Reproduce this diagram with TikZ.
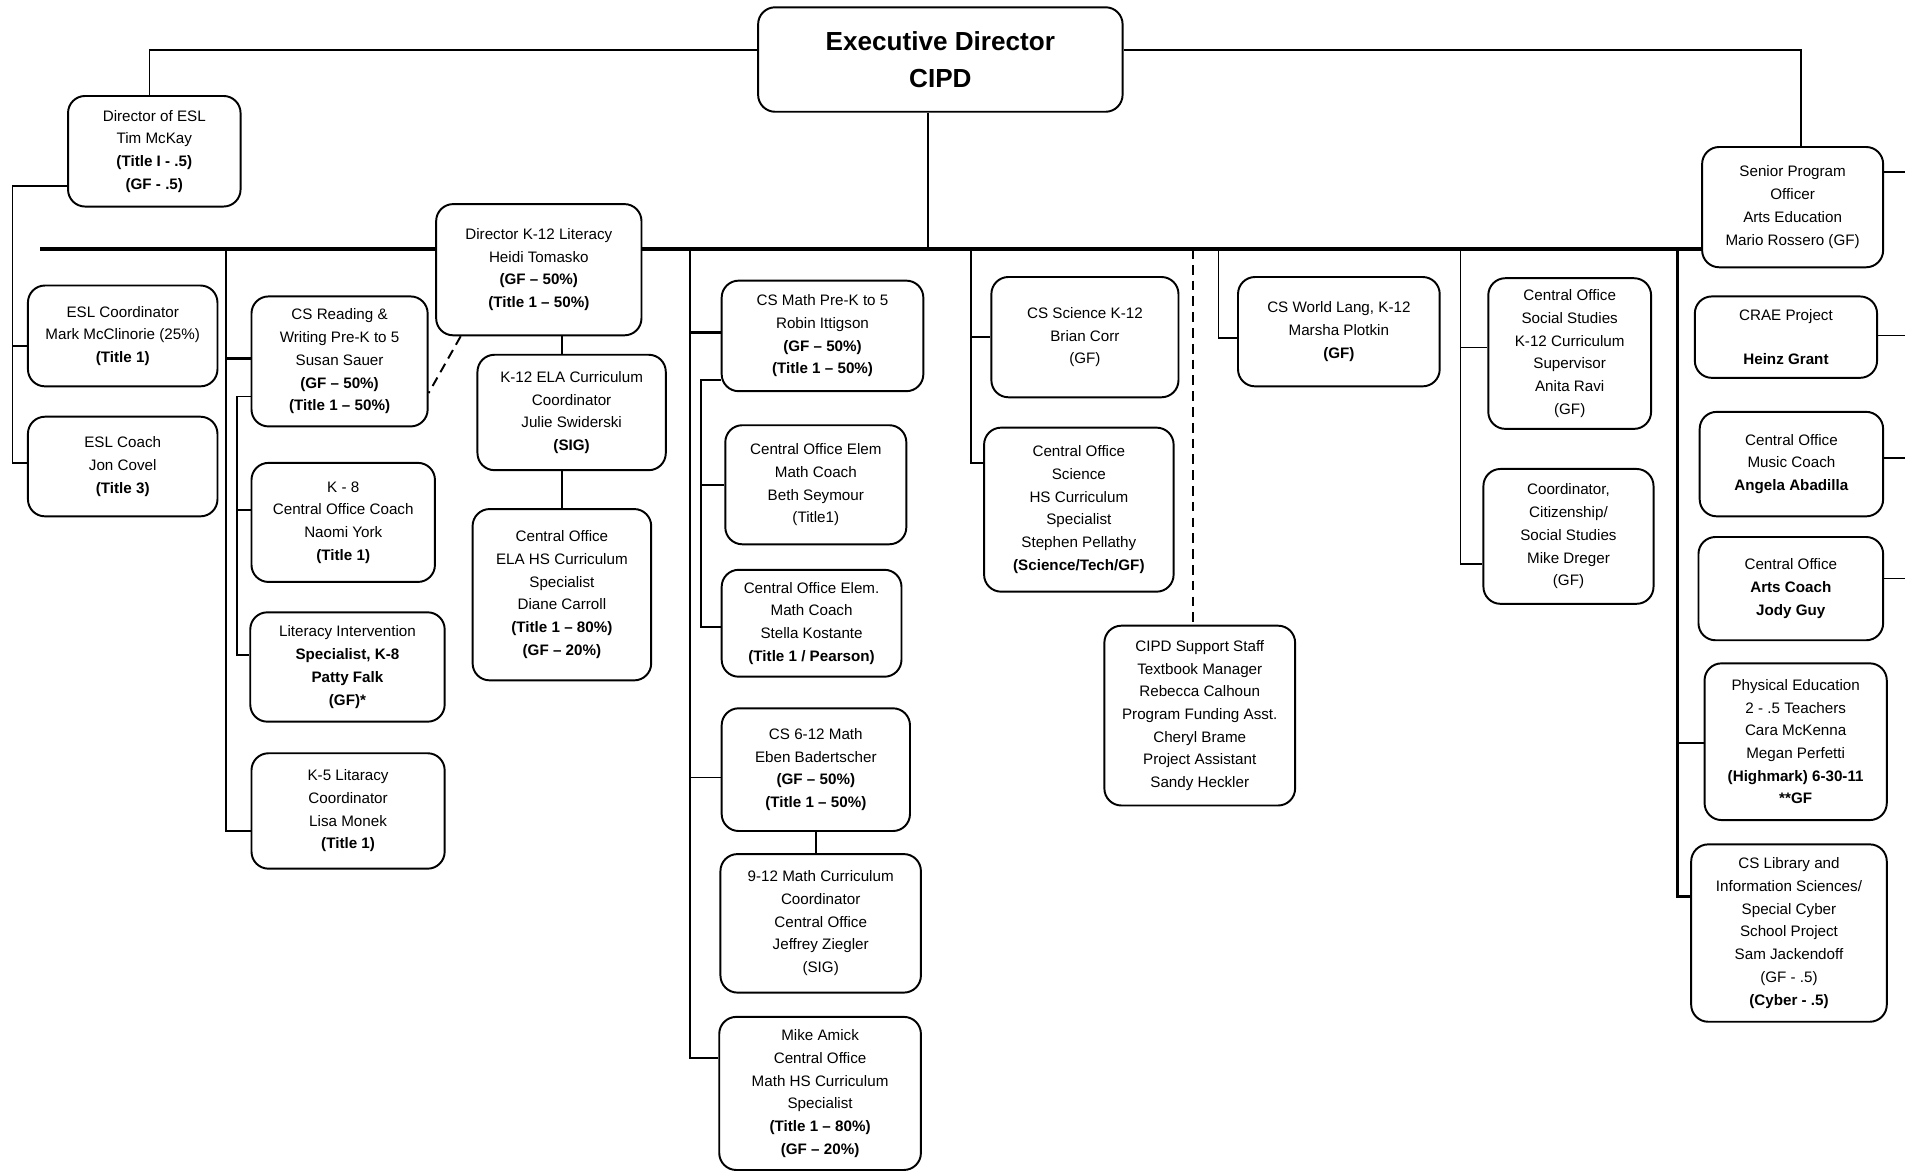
\documentclass[tikz,border=0pt]{standalone}
\usepackage{fontspec}
\setmainfont{Liberation Sans}
\usetikzlibrary{calc}
\tikzset {
    box/.style = {draw, line width = 1.6pt, rounded corners = 14pt, align = center,
        fill = white, inner sep = 2pt, font = \fontsize{12.5}{18.7}\selectfont},
    head box/.style = {font = \fontsize{21.5}{31}\selectfont\bfseries},
    sized/.style 2 args = {minimum width = #1pt, minimum height = #2pt},
    link/.style = {line width = 1.3pt},
    thick link/.style = {line width = 2.4pt},
    bus line/.style = {line width = 3pt},
    dash link/.style = {line width = 1.6pt, dash pattern = on 8pt off 5pt}
}
\begin{document}
\begin{tikzpicture}[x = 1pt, y = -1pt]
    \useasboundingbox (0, 0) rectangle (1568, 965);
    \coordinate (edge) at (1568, 0);
    \coordinate (busL) at (33, 205);
    % top level
    \node (exec) [box, head box, sized = {300}{86}] at (774, 49) {Executive Director\\CIPD};
    \node (esldir) [box, sized = {142}{91}] at (127, 124.5)
        {Director of ESL\\Tim McKay\\\textbf{(Title I - .5)}\\\textbf{(GF - .5)}};
    \node (litdir) [box, sized = {169}{108}] at (443.5, 222)
        {Director K-12 Literacy\\Heidi Tomasko\\\textbf{(GF -- 50\%)}\\\textbf{(Title 1 -- 50\%)}};
    \node (spo) [box, sized = {149}{99}] at (1475.5, 170.5)
        {Senior Program\\Officer\\Arts Education\\Mario Rossero (GF)};
    % ESL
    \node (eslcoord) [box, sized = {156}{83}] at (101, 276.5)
        {ESL Coordinator\\Mark McClinorie (25\%)\\\textbf{(Title 1)}};
    \node (eslcoach) [box, sized = {156}{82}] at (101, 384)
        {ESL Coach\\Jon Covel\\\textbf{(Title 3)}};
    % literacy
    \node (csread) [box, sized = {145}{107}] at (279.5, 297.5)
        {CS Reading \&\\Writing Pre-K to 5\\Susan Sauer\\\textbf{(GF -- 50\%)}\\\textbf{(Title 1 -- 50\%)}};
    \node (k8) [box, sized = {151}{98}] at (282.5, 430)
        {K - 8\\Central Office Coach\\Naomi York\\\textbf{(Title 1)}};
    \node (litint) [box, sized = {160}{90}] at (286, 549)
        {Literacy Intervention\\\textbf{Specialist, K-8}\\\textbf{Patty Falk}\\\textbf{(GF)*}};
    \node (k5) [box, sized = {159}{95}] at (286.5, 667.5)
        {K-5 Litaracy\\Coordinator\\Lisa Monek\\\textbf{(Title 1)}};
    \node (ela) [box, sized = {155}{95}] at (470.5, 339.5)
        {K-12 ELA Curriculum\\Coordinator\\Julie Swiderski\\\textbf{(SIG)}};
    \node (elahs) [box, sized = {147}{141}] at (462.5, 489.5)
        {Central Office\\ELA HS Curriculum\\Specialist\\Diane Carroll\\\textbf{(Title 1 -- 80\%)}\\\textbf{(GF -- 20\%)}};
    % math
    \node (csmath) [box, sized = {166}{91}] at (677, 276.5)
        {CS Math Pre-K to 5\\Robin Ittigson\\\textbf{(GF -- 50\%)}\\\textbf{(Title 1 -- 50\%)}};
    \node (elem1) [box, sized = {149}{98}] at (671.5, 399)
        {Central Office Elem\\Math Coach\\Beth Seymour\\(Title1)};
    \node (elem2) [box, sized = {148}{88}] at (668, 513)
        {Central Office Elem.\\Math Coach\\Stella Kostante\\\textbf{(Title 1 / Pearson)}};
    \node (math612) [box, sized = {155}{101}] at (671.5, 633.5)
        {CS 6-12 Math\\Eben Badertscher\\\textbf{(GF -- 50\%)}\\\textbf{(Title 1 -- 50\%)}};
    \node (math912) [box, sized = {165}{114}] at (675.5, 760)
        {9-12 Math Curriculum\\Coordinator\\Central Office\\Jeffrey Ziegler\\(SIG)};
    \node (amick) [box, sized = {166}{126}] at (675, 900)
        {Mike Amick\\Central Office\\Math HS Curriculum\\Specialist\\\textbf{(Title 1 -- 80\%)}\\\textbf{(GF -- 20\%)}};
    % science and support
    \node (cssci) [box, sized = {154}{99}] at (893, 277.5)
        {CS Science K-12\\Brian Corr\\(GF)};
    \node (cosci) [box, sized = {156}{135}] at (888, 419.5)
        {Central Office\\Science\\HS Curriculum\\Specialist\\Stephen Pellathy\\\textbf{(Science/Tech/GF)}};
    \node (support) [box, sized = {157}{148}] at (987.5, 589)
        {CIPD Support Staff\\Textbook Manager\\Rebecca Calhoun\\Program Funding Asst.\\Cheryl Brame\\Project Assistant\\Sandy Heckler};
    \node (wlang) [box, sized = {166}{90}] at (1102, 273)
        {CS World Lang, K-12\\Marsha Plotkin\\\textbf{(GF)}};
    % social studies
    \node (socst) [box, sized = {134}{124}] at (1292, 291)
        {Central Office\\Social Studies\\K-12 Curriculum\\Supervisor\\Anita Ravi\\(GF)};
    \node (citizen) [box, sized = {140}{111}] at (1291, 441.5)
        {Coordinator,\\Citizenship/\\Social Studies\\Mike Dreger\\(GF)};
    % arts
    \node (crae) [box, sized = {150}{67}] at (1470, 277.5)
        {CRAE Project\\[18pt]\textbf{Heinz Grant}};
    \node (music) [box, sized = {151}{86}] at (1474.5, 382)
        {Central Office\\Music Coach\\\textbf{Angela Abadilla}};
    \node (arts) [box, sized = {152}{85}] at (1474, 484.5)
        {Central Office\\\textbf{Arts Coach}\\\textbf{Jody Guy}};
    \node (pe) [box, sized = {150}{129}] at (1478, 610.5)
        {Physical Education\\2 - .5 Teachers\\Cara McKenna\\Megan Perfetti\\\textbf{(Highmark) 6-30-11}\\\textbf{**GF}};
    \node (lib) [box, sized = {161}{146}] at (1472.5, 768)
        {CS Library and\\Information Sciences/\\Special Cyber\\School Project\\Sam Jackendoff\\(GF - .5)\\\textbf{(Cyber - .5)}};

    % lines from the top
    \draw [link] ([yshift = 8]exec.west) -| ([xshift = -4]esldir.north);
    \draw [link] ([yshift = 8]exec.east) -| ([xshift = 7]spo.north);
    \draw [link] ([xshift = -10]exec.south) -- ([xshift = -10]exec.south |- busL);
    \draw [bus line] (busL) -- (litdir.west |- busL);
    \draw [bus line] (litdir.east |- busL) -- (spo.west |- busL);

    % ESL
    \draw [link] ([yshift = -28.5]esldir.west) -| ([xshift = -12, yshift = 3]eslcoach.west)
        -- ([yshift = 3]eslcoach.west);
    \draw [link] ([xshift = -12, yshift = -8.5]eslcoord.west) -- ([yshift = -8.5]eslcoord.west);

    % literacy
    \coordinate (dlit) at (186, 205);
    \coordinate (readin) at ([yshift = 2.5]csread.west);
    \draw [link] (dlit) |- ([yshift = -16.5]k5.west);
    \draw [thick link] (dlit |- readin) -- (readin);
    \draw [link] ([yshift = -29]csread.west) -| ([xshift = -10, yshift = 10]litint.west)
        -- ([yshift = 10]litint.west);
    \draw [link] ([xshift = -11, yshift = 10]k8.west) -- ([yshift = 10]k8.west);
    \draw [link] (litdir.south -| elahs.north) -- (ela.north -| elahs.north);
    \draw [link] (ela.south -| elahs.north) -- (elahs.north);
    \draw [dash link] ([xshift = 21]litdir.south west) -- ([yshift = -26]csread.east);

    % math
    \coordinate (dmath) at (568, 205);
    \coordinate (mathin) at ([yshift = 2.5]csmath.west);
    \coordinate (m612in) at ([yshift = -6.5]math612.west);
    \draw [link] (dmath) |- ([yshift = 29]amick.west);
    \draw [thick link] (dmath |- mathin) -- (mathin);
    \draw [link] (dmath |- m612in) -- (m612in);
    \draw [link] ([yshift = -36.5]csmath.west) -| ([xshift = -16, yshift = -3]elem2.west)
        -- ([yshift = -3]elem2.west);
    \draw [link] ([xshift = -19]elem1.west) -- (elem1.west);
    \draw [link] (math612.south) -- (math612.south |- math912.north);

    % science, support, world languages
    \coordinate (dsci) at (799, 205);
    \draw [link] (dsci) |- ([yshift = 38.5]cosci.west);
    \draw [link] (dsci |- cssci.west) -- (cssci.west);
    \coordinate (dsup) at (982, 205);
    \draw [dash link] (dsup) -- (dsup |- support.north);
    \coordinate (dwl) at (1003, 205);
    \draw [link] (dwl) |- ([yshift = -5]wlang.west);

    % social studies
    \coordinate (dsoc) at (1202, 205);
    \coordinate (socin) at ([yshift = 5]socst.west);
    \draw [link] (dsoc) |- ([yshift = -22.5]citizen.west);
    \draw [link] (dsoc |- socin) -- (socin);

    % arts
    \coordinate (darts) at (1381, 205);
    \coordinate (pein) at ([yshift = -1]pe.west);
    \draw [thick link] (darts) |- ([yshift = 30]lib.west);
    \draw [link] (darts |- pein) -- (pein);
    \draw [link] ([yshift = 29]spo.east) -- ([yshift = 29]spo.east -| edge);
    \draw [link] ([yshift = 1.5]crae.east) -- ([yshift = 1.5]crae.east -| edge);
    \draw [link] ([yshift = 5]music.east) -- ([yshift = 5]music.east -| edge);
    \draw [link] ([yshift = 8.5]arts.east) -- ([yshift = 8.5]arts.east -| edge);
\end{tikzpicture}
\end{document}
